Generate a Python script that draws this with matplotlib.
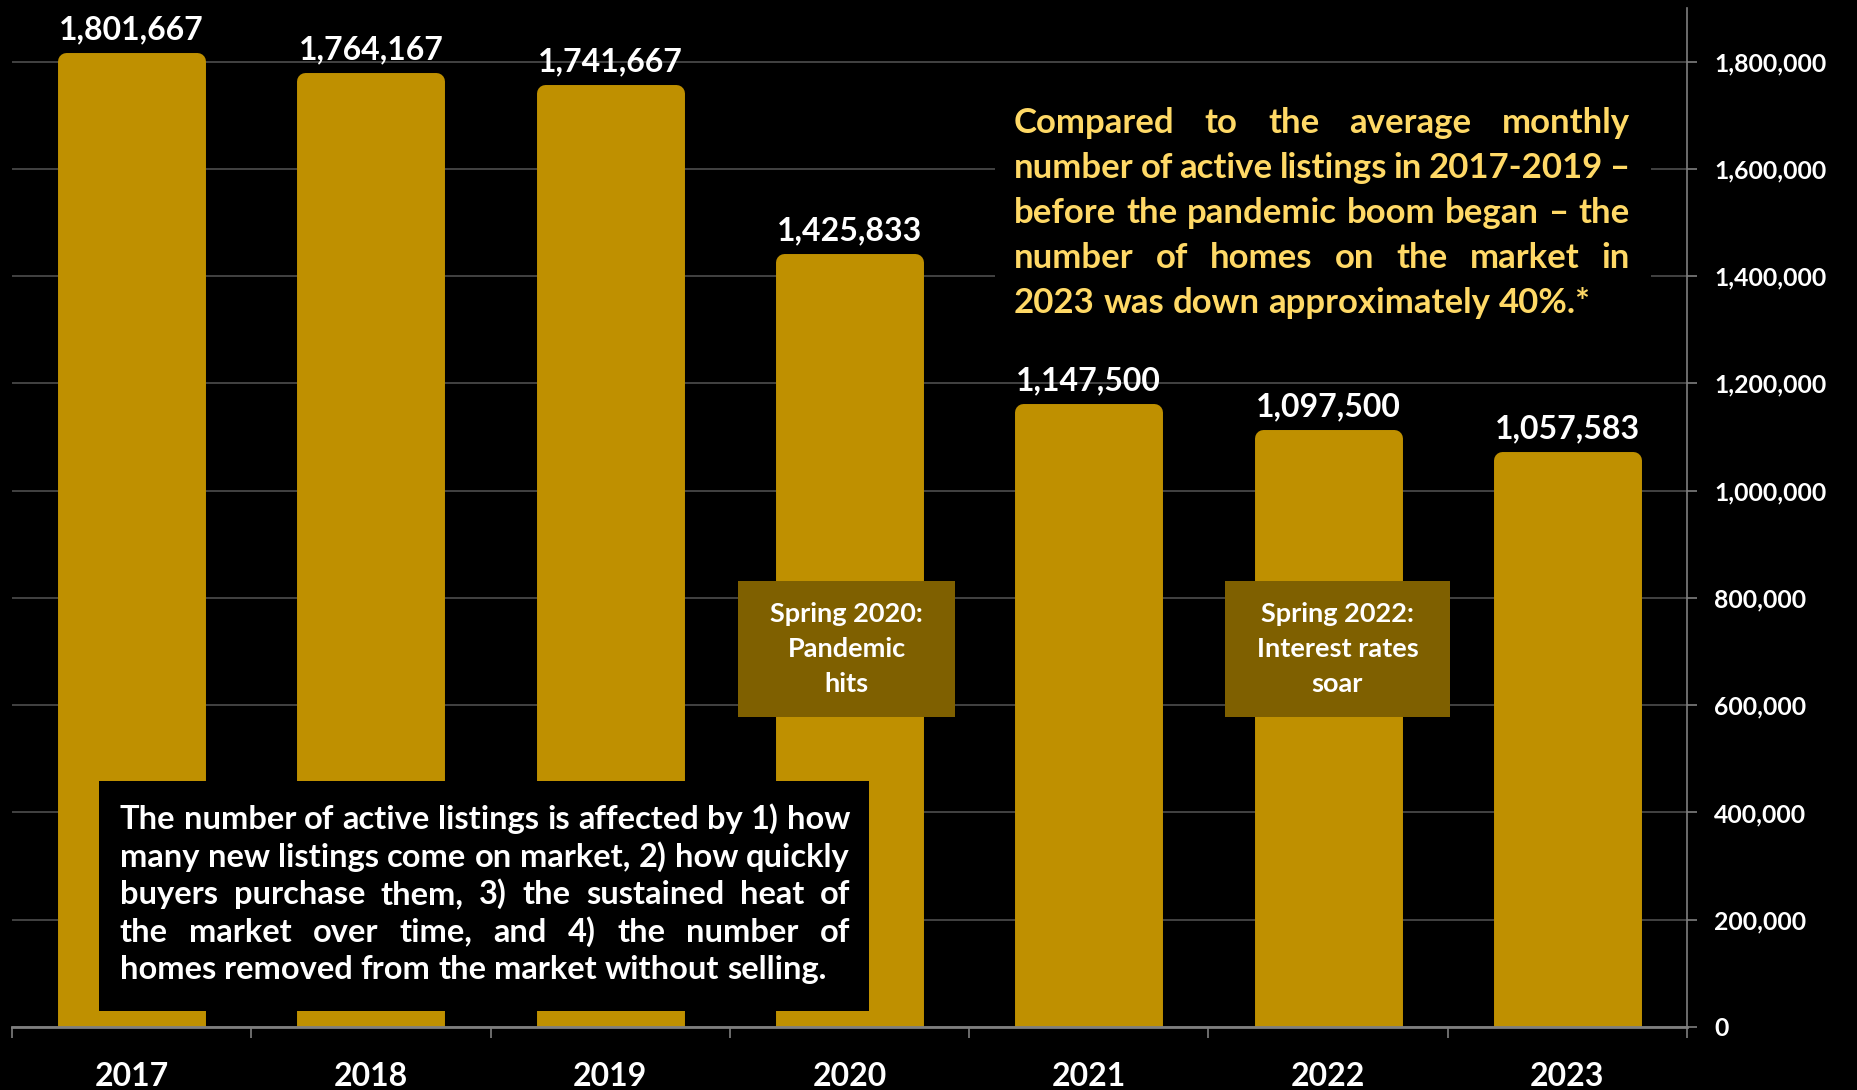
import matplotlib.pyplot as plt
from matplotlib.patches import Rectangle
from matplotlib.ticker import FuncFormatter, MultipleLocator, FixedLocator

# Average monthly active listings per year
years = ["2017", "2018", "2019", "2020", "2021", "2022", "2023"]
active_listings = [1801667, 1764167, 1741667, 1425833, 1147500, 1097500, 1057583]

event_labels = ["Spring 2020:\nPandemic\nhits", "Spring 2022:\nInterest rates\nsoar"]

comparison_lines = [
    "Compared to the average monthly",
    "number of active listings in 2017-2019 \u2013",
    "before the pandemic boom began \u2013 the",
    "number of homes on the market in",
    "2023 was down approximately 40%.*",
]

factor_lines = [
    "The number of active listings is affected by 1) how",
    "many new listings come on market, 2) how quickly",
    "buyers purchase them, 3) the sustained heat of",
    "the market over time, and 4) the number of",
    "homes removed from the market without selling.",
]

GOLD = "#BF9000"
DARK_GOLD = "#7F6000"
PALE_GOLD = "#FFD966"
GRID = "#474747"
AXIS = "#7f7f7f"
FONT = "Lato"

W, H = 1858, 1090

plt.rcParams["font.family"] = [FONT, "DejaVu Sans"]
plt.rcParams["font.weight"] = "bold"

fig = plt.figure(figsize=(W / 100, H / 100), dpi=100, facecolor="black")
ax = fig.add_axes([12 / W, 63 / H, 1675 / W, 1019 / H])
ax.set_facecolor("black")
ax.set_xlim(-0.5, len(years) - 0.5)
ax.set_ylim(0, 1_900_000)

# thick round-joined outline in the fill colour gives the soft corners
x = range(len(years))
ax.bar(x, active_listings, width=0.5475, color=GOLD, edgecolor=GOLD,
       linewidth=12.2, joinstyle="round", zorder=2)
for i, v in enumerate(active_listings):
    ax.annotate(f"{v:,}", xy=(i, v), xytext=(0, 12), textcoords="offset points",
                ha="center", va="bottom", color="white", fontsize=23,
                fontweight="bold", zorder=4)

# right-hand value axis
ax.yaxis.tick_right()
ax.yaxis.set_major_locator(MultipleLocator(200_000))
ax.yaxis.set_major_formatter(FuncFormatter(lambda v, _: f"{v:,.0f}"))
ax.yaxis.grid(True, color=GRID, lw=1.3)
ax.set_axisbelow(True)
ax.tick_params(axis="y", colors=AXIS, labelcolor="white", length=7.5, width=1.2,
               pad=12, labelsize=17.8)

# category axis: labels at centres, tick marks between categories
ax.set_xticks(list(x))
ax.set_xticklabels(years)
ax.xaxis.set_minor_locator(FixedLocator([i - 0.5 for i in range(len(years) + 1)]))
ax.tick_params(axis="x", which="major", length=0, pad=25, labelsize=23,
               labelcolor="white")
ax.tick_params(axis="x", which="minor", length=8, width=1.2, colors=AXIS)

for side in ("left", "top"):
    ax.spines[side].set_visible(False)
ax.spines["right"].set_color(AXIS)
ax.spines["right"].set_linewidth(1.2)
ax.spines["bottom"].set_color(AXIS)
ax.spines["bottom"].set_linewidth(2)
ax.spines["bottom"].set_zorder(3)

# event call-outs
for (x0, x1), label in zip([(2.534, 3.441), (4.569, 5.509)], event_labels):
    ax.add_patch(Rectangle((x0, 578_000), x1 - x0, 253_600, fc=DARK_GOLD,
                           ec="none", zorder=3))
    ax.text((x0 + x1) / 2, 704_800, label, ha="center", va="center",
            color="white", fontsize=19.5, fontweight="bold", linespacing=1.55,
            zorder=4)


def fig_rect(x0, y0, x1, y1, color):
    fig.add_artist(Rectangle((x0 / W, 1 - y1 / H), (x1 - x0) / W, (y1 - y0) / H,
                             transform=fig.transFigure, fc=color, ec="none",
                             zorder=2))


def justified_block(lines, left, right, first_baseline, line_gap, **style):
    renderer = fig.canvas.get_renderer()

    def width(s):
        t = fig.text(0, 0, s, **style)
        w = t.get_window_extent(renderer).width
        t.remove()
        return w

    space = width("n n") - width("nn")
    for k, line in enumerate(lines):
        words = line.split()
        sizes = [width(w) for w in words]
        if k < len(lines) - 1 and len(words) > 1:
            gap = (right - left - sum(sizes)) / (len(words) - 1)
        else:
            gap = space
        xpos = left
        y = first_baseline + k * line_gap
        for word, size in zip(words, sizes):
            fig.text(xpos / W, 1 - y / H, word, ha="left", va="baseline",
                     zorder=5, **style)
            xpos += size + gap


fig_rect(995, 85, 1651, 330, "black")
justified_block(comparison_lines, 1014, 1630, 133, 45,
                color=PALE_GOLD, fontsize=25, fontweight="bold")

fig_rect(99, 781, 869, 1011, "black")
justified_block(factor_lines, 120, 850, 829, 37.6,
                color="white", fontsize=23.5, fontweight="bold")

fig.savefig("out.png", dpi=100, facecolor="black")
